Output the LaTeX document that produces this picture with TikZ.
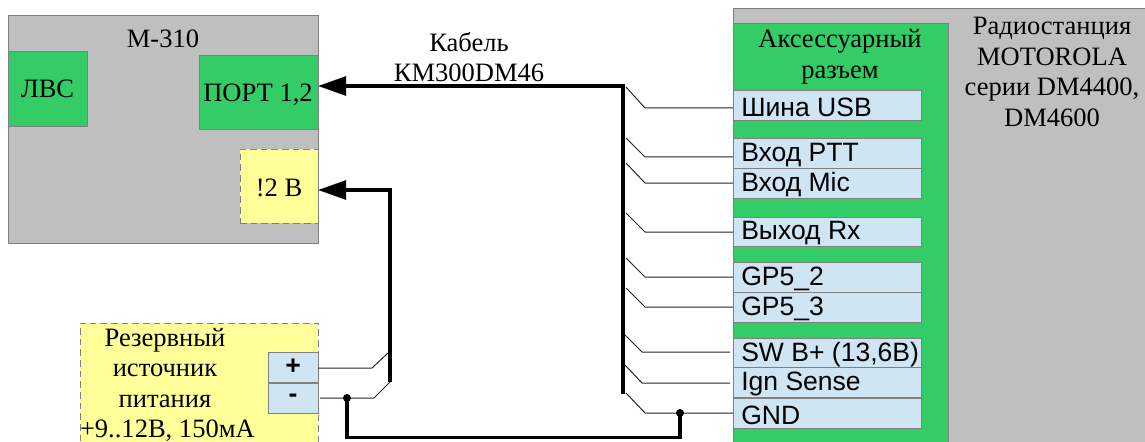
\documentclass[tikz,border=0pt]{standalone}
\usepackage{fontspec}
\setmainfont{Liberation Serif}
\newfontfamily\arialf{Liberation Sans}
\usetikzlibrary{arrows.meta,calc}
\definecolor{grayfill}{HTML}{BFBFBF}
\definecolor{edgegray}{HTML}{808080}
\definecolor{greenfill}{HTML}{33CC66}
\definecolor{yellowfill}{HTML}{FFFF99}
\definecolor{bluefill}{HTML}{CFE5F4}
\tikzset{
  x=0.75pt,y=-0.75pt,
  area/.style={draw=edgegray,line width=0.7pt,inner sep=0pt,outer sep=0pt,anchor=north west,font=\fontsize{19.9}{23}\selectfont,align=center},
  graybox/.style={area,fill=grayfill},
  greenbox/.style={area,fill=greenfill},
  yellowbox/.style={area,fill=yellowfill,dash pattern=on 5pt off 3pt},
  pinbox/.style={area,fill=bluefill},
  txt/.style={inner sep=0pt,outer sep=0pt,font=\fontsize{19.9}{23}\selectfont,align=center},
  thinw/.style={draw=black!85,line width=0.75pt},
  thickw/.style={draw=black,line width=2.7pt,line join=miter},
  arrowed/.style={-{Triangle[length=21pt,width=14pt]},shorten >=0pt},
  joint/.style={circle,fill=black,inner sep=0pt,minimum size=6pt}
}
% style, name, x1, y1, x2, y2, text
\newcommand{\pxnode}[7]{%
  \pgfmathsetmacro{\boxw}{(#5-#3)*0.75}%
  \pgfmathsetmacro{\boxh}{(#6-#4)*0.75}%
  \node[#1,minimum width=\boxw pt,minimum height=\boxh pt] (#2) at (#3,#4) {#7};}
% label row: left aligned text in a fixed box
\newcommand{\pin}[4]{%
  \pxnode{pinbox}{#1}{733}{#2}{921}{#3}{}%
  \node[anchor=west,inner sep=0pt,font=\arialf\fontsize{19.9}{23}\selectfont] (#1t) at ($(#1.west)+(8,2)$) {#4};}
\begin{document}
\begin{tikzpicture}
\useasboundingbox (0,0) rectangle (1145,442);
\begin{scope}
\clip (0,0) rectangle (1145,442);
% M-310
\pxnode{graybox}{m}{8}{15}{318}{243}{}
\pxnode{greenbox}{lan}{8}{51}{87}{126}{ЛВС}
\pxnode{greenbox}{port}{199}{55}{318}{129}{}
\node[txt] (portt) at (258,95) {ПОРТ 1,2};
\pxnode{yellowbox}{pw}{240}{149}{318}{223}{}
\node[txt] (pwt) at (279,188) {!2 В};
\node[txt] (mt) at (163,39) {М-310};
% Radio
\pxnode{graybox}{radio}{733}{8}{1150}{450}{}
\pxnode{greenbox}{acc}{733}{23}{948}{450}{}
\node[txt] (radiot) at (1052,72) {Радиостанция\\MOTOROLA\\серии DM4400,\\DM4600};
\node[txt] (acct) at (840,57) {Аксессуарный\\разъем};
\pin{usb}{90}{120}{Шина USB}
\pin{ptt}{138}{168}{Вход PTT}
\pin{mic}{168}{198}{Вход Mic}
\pin{rx}{217}{246}{Выход Rx}
\pin{gpa}{262}{292}{GP5\_2}
\pin{gpb}{292}{322}{GP5\_3}
\pin{sw}{338}{367}{SW B+ (13,6В)}
\pin{ign}{367}{397}{Ign Sense}
\pin{gnd}{398}{428}{GND}
% Reserve supply
\pxnode{yellowbox}{sup}{80}{323}{318}{450}{}
\node[txt,anchor=north] (supt) at (165,328) {Резервный\\источник\\питания};
\node[txt,anchor=north west] (suptb) at (80,420) {+9..12В, 150мА};
\pxnode{pinbox}{plus}{268}{352}{318}{382}{\arialf\bfseries +}
\pxnode{pinbox}{minus}{268}{383}{318}{413}{\arialf\bfseries -}
% named points
\coordinate (bt) at (623,86);
\coordinate (bb) at (623,394);
\coordinate (pt) at (390,190);
\coordinate (pb) at (390,382);
\coordinate (gj) at (680,413);
\coordinate (mj) at (347,398);
% thick lines
\draw[thickw,arrowed] (bb) -- (bt) -- (port.east |- bt);
\draw[thickw,arrowed] (pb) -- (pt) -- (pw.east |- pt);
\draw[thickw] (mj) -- (347,437.5) -- (680,437.5) -- (gj);
% thin branches
\draw[thinw] (626,87) -- (645,108) -- (usb.west |- 0,108);
\draw[thinw] (626,138) -- (645,157) -- (ptt.west |- 0,157);
\draw[thinw] (626,163) -- (645,183) -- (mic.west |- 0,183);
\draw[thinw] (626,213) -- (645,232) -- (rx.west |- 0,232);
\draw[thinw] (626,258) -- (645,277) -- (gpa.west |- 0,277);
\draw[thinw] (626,288) -- (645,307) -- (gpb.west |- 0,307);
\draw[thinw] (625,335) -- (642,352) -- (730,352);
\draw[thinw] (625,365) -- (642,383) -- (730,383);
\draw[thinw] (626,393) -- (645,413) -- (gnd.west |- 0,413);
\draw[thinw] (plus.east |- 0,368) -- (372,368) -- (388,353);
\draw[thinw] (320,398) -- (374,398) -- (390,382);
\node[joint] (gjd) at (gj) {};
\node[joint] (mjd) at (mj) {};
% cable label
\node[txt] (cab) at (469,57) {Кабель\\КМ300DM46};
\end{scope}
\end{tikzpicture}
\end{document}
